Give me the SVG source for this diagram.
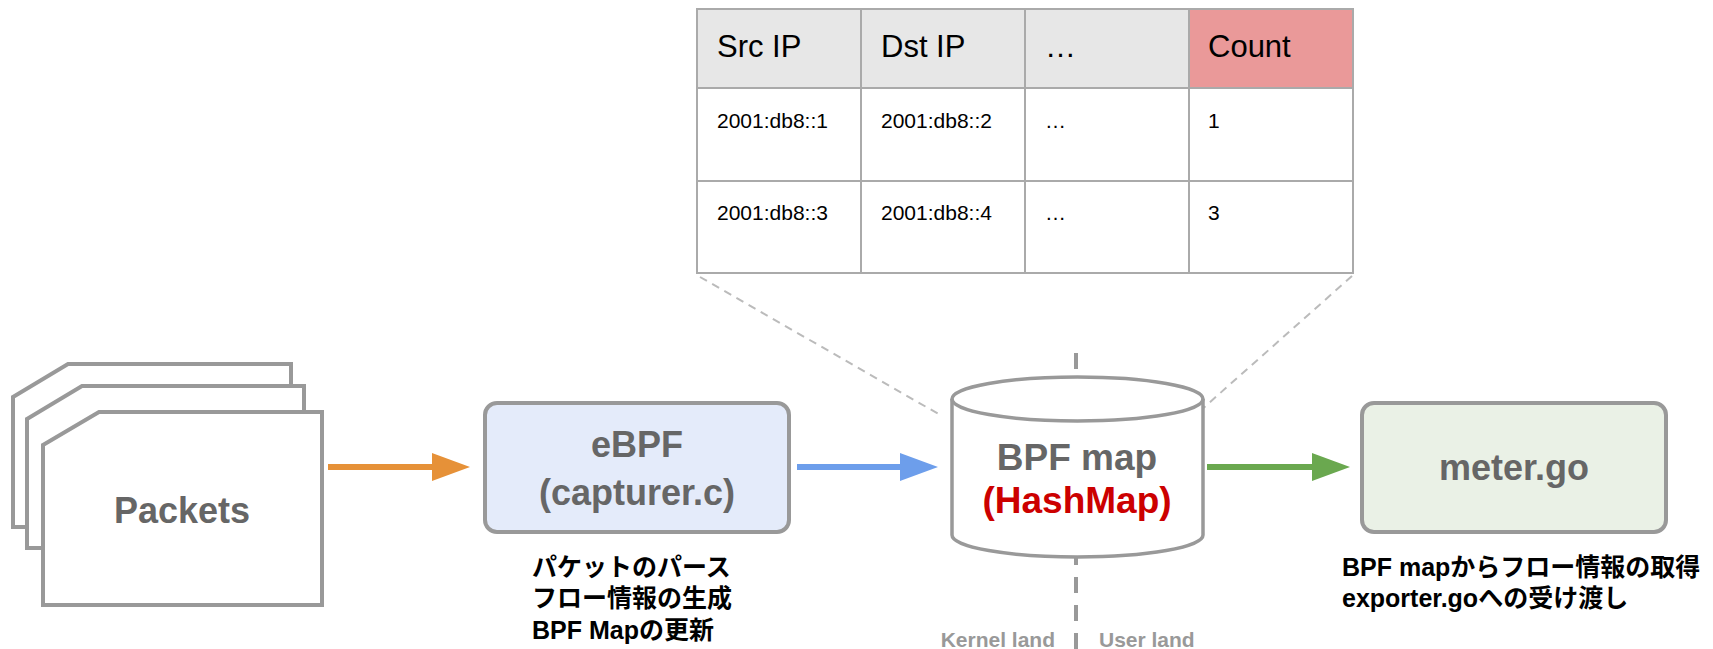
<svg xmlns="http://www.w3.org/2000/svg" width="1713" height="649" viewBox="0 0 1713 649">
<style>
.t{font-family:"Liberation Sans","Noto Sans CJK JP",sans-serif}
.hd{font-size:31px;fill:#000}
.cell{font-size:21px;fill:#000}
.grid{stroke:#aaaaaa;stroke-width:2;fill:none}
.sheet{fill:#fff;stroke:#999;stroke-width:4;stroke-linejoin:miter}
.box{stroke:#999;stroke-width:4}
.big{font-size:36px;font-weight:bold;fill:#666;text-anchor:middle}
.note{font-size:25px;font-weight:bold;fill:#000}
.land{font-size:21px;font-weight:bold;fill:#999}
.guide{stroke:#bbbbbb;stroke-width:2;stroke-dasharray:8 6;fill:none}
</style>
<defs>
<marker id="ah-o" markerUnits="userSpaceOnUse" markerWidth="38" markerHeight="28" refX="0" refY="14" orient="auto" viewBox="0 0 38 28"><path d="M0,0 L38,14 L0,28 Z" fill="#e69138"/></marker>
<marker id="ah-b" markerUnits="userSpaceOnUse" markerWidth="38" markerHeight="28" refX="0" refY="14" orient="auto" viewBox="0 0 38 28"><path d="M0,0 L38,14 L0,28 Z" fill="#6d9eeb"/></marker>
<marker id="ah-g" markerUnits="userSpaceOnUse" markerWidth="38" markerHeight="28" refX="0" refY="14" orient="auto" viewBox="0 0 38 28"><path d="M0,0 L38,14 L0,28 Z" fill="#6aa84f"/></marker>
</defs>
<rect width="1713" height="649" fill="#fff"/>

<g id="guides">
<line class="guide" x1="700" y1="277" x2="942" y2="416"/>
<line class="guide" x1="1352" y1="276" x2="1200" y2="411"/>
<line x1="1076" y1="353" x2="1076" y2="649" stroke="#999" stroke-width="4" stroke-dasharray="16 12"/>
</g>

<g id="table">
<rect x="697" y="9" width="492" height="79" fill="#e7e7e7"/>
<rect x="1189" y="9" width="164" height="79" fill="#ea9999"/>
<rect x="697" y="88" width="656" height="185" fill="#fff"/>
<path class="grid" d="M697,9 H1353 V273 H697 Z M697,88 H1353 M697,181 H1353 M861,9 V273 M1025,9 V273 M1189,9 V273"/>
<g class="t">
<text class="hd" x="717" y="57">Src IP</text>
<text class="hd" x="881" y="57">Dst IP</text>
<text class="hd" x="1045" y="57">…</text>
<text class="hd" x="1208" y="57">Count</text>
<text class="cell" x="717" y="128">2001:db8::1</text>
<text class="cell" x="881" y="128">2001:db8::2</text>
<text class="cell" x="1045" y="128">…</text>
<text class="cell" x="1208" y="128">1</text>
<text class="cell" x="717" y="220">2001:db8::3</text>
<text class="cell" x="881" y="220">2001:db8::4</text>
<text class="cell" x="1045" y="220">…</text>
<text class="cell" x="1208" y="220">3</text>
</g>
</g>

<g id="packets">
<path class="sheet" d="M13,397 L68,364 L291,364 L291,527 L13,527 Z"/>
<path class="sheet" d="M27,419 L82,386 L304,386 L304,548 L27,548 Z"/>
<path class="sheet" d="M43,445 L99,412 L322,412 L322,605 L43,605 Z"/>
<text class="t big" x="182" y="523">Packets</text>
</g>

<g id="ebpf">
<rect class="box" x="485" y="403" width="304" height="129" rx="12" fill="#e4ebfa"/>
<text class="t big" x="637" y="457">eBPF</text>
<text class="t big" x="637" y="505">(capturer.c)</text>
<text class="t note" x="532" y="576">パケットのパース</text>
<text class="t note" x="532" y="607">フロー情報の生成</text>
<text class="t note" x="532" y="639">BPF Mapの更新</text>
</g>

<g id="bpfmap">
<path d="M952,399 A125.5,22 0 0 1 1203,399 V535 A125.5,22 0 0 1 952,535 Z" fill="#fff" stroke="#999" stroke-width="3.5"/>
<path d="M952,399 A125.5,22 0 0 0 1203,399" fill="none" stroke="#999" stroke-width="3.5"/>
<text class="t" x="1077" y="470" font-size="37" font-weight="bold" fill="#666" text-anchor="middle">BPF map</text>
<text class="t" x="1077" y="513" font-size="37" font-weight="bold" fill="#cc0000" text-anchor="middle">(HashMap)</text>
</g>

<g id="meter">
<rect class="box" x="1362" y="403" width="304" height="129" rx="12" fill="#eaf1e6"/>
<text class="t big" x="1514" y="480">meter.go</text>
<text class="t note" x="1342" y="576">BPF mapからフロー情報の取得</text>
<text class="t note" x="1342" y="607">exporter.goへの受け渡し</text>
</g>

<g id="land-labels">
<text class="t land" x="1055" y="647" text-anchor="end">Kernel land</text>
<text class="t land" x="1099" y="647">User land</text>
</g>

<g id="connectors">
<line x1="328" y1="467" x2="432" y2="467" stroke="#e69138" stroke-width="6" marker-end="url(#ah-o)"/>
<line x1="797" y1="467" x2="900" y2="467" stroke="#6d9eeb" stroke-width="6" marker-end="url(#ah-b)"/>
<line x1="1207" y1="467" x2="1312" y2="467" stroke="#6aa84f" stroke-width="6" marker-end="url(#ah-g)"/>
</g>
</svg>
